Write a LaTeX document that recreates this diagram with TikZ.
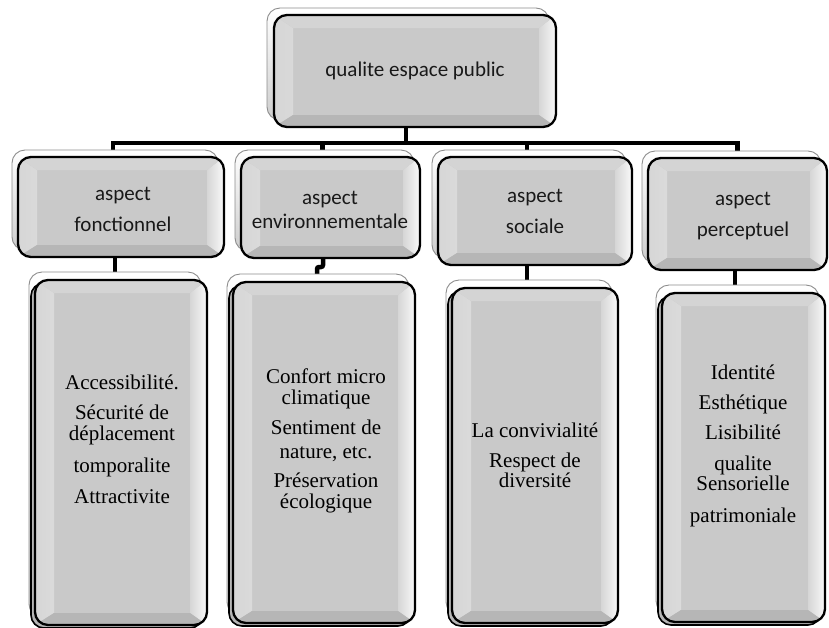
\documentclass[tikz,border=0pt]{standalone}
\usepackage{fontspec}
\setmainfont{Liberation Serif}
\newfontfamily\calibri{Carlito}
\pgfdeclarelayer{bg}
\pgfsetlayers{bg,main}
\definecolor{midgray}{RGB}{201,201,201}
\definecolor{topgray}{RGB}{212,212,212}
\definecolor{botgray}{RGB}{182,182,182}
\definecolor{sidegray}{RGB}{214,214,214}
\definecolor{edgegray}{RGB}{140,140,140}
\definecolor{backlow}{RGB}{205,205,205}
\definecolor{txtdark}{RGB}{25,25,25}
\tikzset{
  bevbox/.style={draw=black, line width=2.3pt, rounded corners=13pt, fill=midgray,
    inner sep=0pt, outer sep=0pt,
    path picture={
      \shade[sharp corners, left color=sidegray, right color=white]
        (path picture bounding box.north west) -- (path picture bounding box.south west)
        -- ([shift={(19pt,12pt)}]path picture bounding box.south west)
        -- ([shift={(19pt,-13pt)}]path picture bounding box.north west) -- cycle;
      \shade[sharp corners, left color=sidegray, right color=white!85!sidegray]
        (path picture bounding box.north east) -- (path picture bounding box.south east)
        -- ([shift={(-17pt,12pt)}]path picture bounding box.south east)
        -- ([shift={(-17pt,-13pt)}]path picture bounding box.north east) -- cycle;
      \fill[sharp corners, topgray]
        (path picture bounding box.north west) -- (path picture bounding box.north east)
        -- ([shift={(-17pt,-13pt)}]path picture bounding box.north east)
        -- ([shift={(19pt,-13pt)}]path picture bounding box.north west) -- cycle;
      \fill[sharp corners, botgray]
        (path picture bounding box.south west) -- (path picture bounding box.south east)
        -- ([shift={(-17pt,12pt)}]path picture bounding box.south east)
        -- ([shift={(19pt,12pt)}]path picture bounding box.south west) -- cycle;
    }},
  backbox/.style={draw=edgegray, line width=0.9pt, rounded corners=13pt,
    top color=white, bottom color=backlow, inner sep=0pt, outer sep=0pt},
  darkbox/.style={draw=black, line width=1.6pt, rounded corners=13pt,
    fill=botgray, inner sep=0pt, outer sep=0pt},
  conn/.style={draw=black, line width=4.5pt},
  sanstxt/.style={font=\calibri\fontsize{21}{31}\selectfont, align=center, text=txtdark, inner sep=0pt},
  seriftxt/.style={font=\fontsize{21}{20.5}\selectfont, align=center, text=black, inner sep=0pt}
}
\begin{document}
\begin{tikzpicture}[x=1pt,y=-1pt]
\useasboundingbox (0,0) rectangle (829,627);

% ---- top box
\node[backbox, minimum width=282pt, minimum height=112pt] (topbk) at (408,64) {};
\node[bevbox, minimum width=282pt, minimum height=112pt] (top) at (415,71) {};
\node[sanstxt] (toptxt) at (415,71) {qualite espace public};

% ---- level 2
\node[backbox, minimum width=206pt, minimum height=100pt] (L1bk) at (115,200) {};
\node[bevbox, minimum width=206pt, minimum height=100pt] (L1) at (121,207) {};
\node[sanstxt] (L1t) at (123,209) {aspect\\fonctionnel};

\node[backbox, minimum width=179pt, minimum height=101pt] (L2bk) at (324.5,200.5) {};
\node[bevbox, minimum width=179pt, minimum height=101pt] (L2) at (330.5,207.5) {};
\node[sanstxt, font=\calibri\fontsize{21}{24}\selectfont] (L2t) at (330,209.5) {aspect\\environnementale};

\node[backbox, minimum width=194pt, minimum height=108pt] (L3bk) at (529,204) {};
\node[bevbox, minimum width=194pt, minimum height=108pt] (L3) at (535,211) {};
\node[sanstxt] (L3t) at (535,211.5) {aspect\\sociale};

\node[backbox, minimum width=179pt, minimum height=112pt] (L4bk) at (731.5,207) {};
\node[bevbox, minimum width=179pt, minimum height=112pt] (L4) at (737.5,214) {};
\node[sanstxt] (L4t) at (743,216) {aspect\\perceptuel};

% ---- level 3
\node[backbox, minimum width=172pt, minimum height=345pt] (B1bk) at (115,444.5) {};
\node[darkbox, minimum width=172pt, minimum height=345pt] (B1sh) at (117,455.5) {};
\node[bevbox, minimum width=172pt, minimum height=345pt] (B1) at (121,452.5) {};
\node[seriftxt] (B1t) at (122,439.5) {Accessibilité.\\[9.5pt]Sécurité de\\déplacement\\[11.5pt]tomporalite\\[10.5pt]Attractivite};

\node[backbox, minimum width=182pt, minimum height=341pt] (B2bk) at (318,444.5) {};
\node[darkbox, minimum width=182pt, minimum height=341pt] (B2sh) at (320,455.5) {};
\node[bevbox, minimum width=182pt, minimum height=341pt] (B2) at (324,452.5) {};
\node[seriftxt] (B2t) at (326,441) {Confort micro\\climatique\\[10pt]Sentiment de\\[3pt]nature, etc.\\[9pt]Préservation\\écologique};

\node[backbox, minimum width=166pt, minimum height=335pt] (B3bk) at (529,447.5) {};
\node[darkbox, minimum width=166pt, minimum height=335pt] (B3sh) at (531,458.5) {};
\node[bevbox, minimum width=166pt, minimum height=335pt] (B3) at (535,455.5) {};
\node[seriftxt] (B3t) at (535,455.5) {La convivialité\\[9.5pt]Respect de\\diversité};

\node[backbox, minimum width=163pt, minimum height=329pt] (B4bk) at (737.5,449.5) {};
\node[darkbox, minimum width=163pt, minimum height=329pt] (B4sh) at (739.5,460.5) {};
\node[bevbox, minimum width=163pt, minimum height=329pt] (B4) at (743.5,457.5) {};
\node[seriftxt] (B4t) at (743,445.5) {Identité\\[9.5pt]Esthétique\\[10pt]Lisibilité\\[10pt]qualite\\Sensorielle\\[11pt]patrimoniale};

% ---- connectors (behind the boxes)
\begin{pgfonlayer}{bg}
\draw[conn] ([xshift=-9pt]top.south) -- ++(0,17);
\draw[conn] ([xshift=-8pt]L1.north) -- ++(0,-14) -| (L4.north);
\draw[conn] ([xshift=-8pt]L2.north) -- ++(0,-14);
\draw[conn] ([xshift=-8pt]L3.north) -- ++(0,-14);
\draw[conn] ([xshift=-6pt]L1.south) -- ([xshift=-6pt]L1.south |- B1.north);
\draw[conn, rounded corners=2pt] ([xshift=-7.5pt]L2.south) -- ++(0,9) -| ([xshift=-7pt]B2.north);
\draw[conn] ([xshift=-8pt]L3.south) -- ([xshift=-8pt]L3.south |- B3.north);
\draw[conn] ([xshift=-2.5pt]L4.south) -- ([xshift=-2.5pt]L4.south |- B4.north);
\end{pgfonlayer}
\end{tikzpicture}
\end{document}
